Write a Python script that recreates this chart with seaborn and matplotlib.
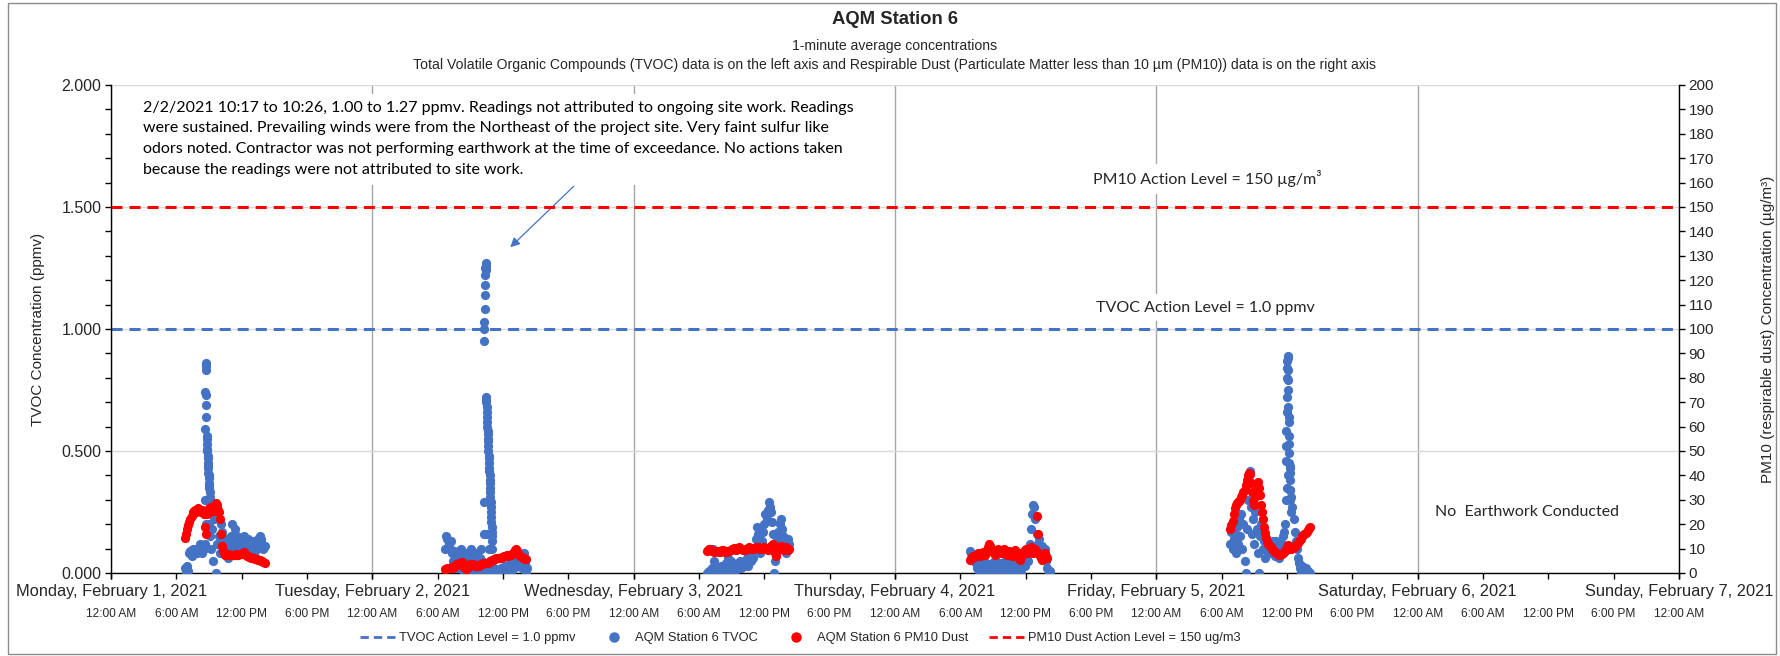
import numpy as np
import pandas as pd
import matplotlib
matplotlib.use("Agg")
import matplotlib.pyplot as plt
import matplotlib.dates as mdates
import matplotlib.ticker as mticker
from matplotlib.patches import Rectangle
from matplotlib.lines import Line2D
import seaborn as sns

# ---------------- data ----------------
TITLE = "AQM Station 6"
SUBTITLE_1 = "1-minute average concentrations"
SUBTITLE_2 = ("Total Volatile Organic Compounds (TVOC) data is on the left axis and Respirable Dust "
              "(Particulate Matter less than 10 \u00b5m (PM10)) data is on the right axis")

TVOC_ACTION = 1.0      # ppmv
PM10_ACTION = 150.0    # ug/m3

# TVOC readings (ppmv): 6-minute samples, start "day HH:MM"
mon_tvoc_start = "2021-02-01 06:48"
mon_tvoc = [0.02, 0.0, 0.03, 0.01, 0.08, 0.09, 0.07, 0.1, 0.08, 0.09, 0.1, 0.08, 0.09, 0.1, 0.12, 0.09,
            0.08, 0.1, 0.12, 0.2, 0.25, 0.3, 0.2, 0.15, 0.1, 0.18, 0.05, 0.22, 0.0, 0.12, 0.25, 0.15,
            0.08, 0.2, 0.17, 0.12, 0.08, 0.1, 0.14, 0.06, 0.12, 0.1, 0.15, 0.2, 0.14, 0.1, 0.18, 0.12,
            0.15, 0.1, 0.08, 0.12, 0.1, 0.13, 0.15, 0.11, 0.09, 0.12, 0.14, 0.1, 0.08, 0.11, 0.13, 0.12,
            0.09, 0.1, 0.12, 0.14, 0.13, 0.15, 0.14, 0.12, 0.1, 0.11]
# Monday spike, 1-minute samples
mon_spike_start = "2021-02-01 08:38"
mon_spike = [0.3, 0.59, 0.74, 0.86, 0.85, 0.83, 0.73, 0.69, 0.64, 0.56, 0.55, 0.53, 0.51, 0.5, 0.48,
             0.47, 0.45, 0.44, 0.43, 0.41, 0.4, 0.39, 0.37, 0.36, 0.35, 0.33, 0.31, 0.3]

tue_tvoc_start = "2021-02-02 06:42"
tue_tvoc = [0.1, 0.15, 0.14, 0.12, 0.1, 0.13, 0.08, 0.05, 0.09, 0.04, 0.07, 0.02, 0.06, 0.09, 0.1, 0.06,
            0.02, 0.0, 0.04, 0.08, 0.03, 0.0, 0.05, 0.09, 0.1, 0.06, 0.02, 0.0, 0.05, 0.08, 0.04, 0.0,
            0.06, 0.1, 0.05, 0.02, 0.0, 0.04, 0.16, 0.0, 0.1, 0.03, 0.0, 0.05, 0.0, 0.02, 0.0, 0.0,
            0.01, 0.0, 0.0, 0.02, 0.0, 0.01, 0.0, 0.03, 0.0, 0.0, 0.02, 0.04, 0.0, 0.03, 0.05, 0.02,
            0.04, 0.06, 0.03, 0.07, 0.08, 0.05, 0.02, 0.06, 0.08, 0.04, 0.0, 0.02]
tue_spike_start = "2021-02-02 10:14"
tue_spike = [0.16, 0.29, 0.95, 1.0, 1.03, 1.08, 1.14, 1.18, 1.22, 1.25, 1.27, 1.26, 1.24, 0.72, 0.71,
             0.7, 0.68, 0.66, 0.64, 0.62, 0.6, 0.58, 0.57, 0.55, 0.54, 0.52, 0.5, 0.48, 0.47, 0.45,
             0.43, 0.42, 0.4, 0.38, 0.37, 0.35, 0.33, 0.31, 0.29, 0.27, 0.25, 0.23, 0.21, 0.19, 0.17,
             0.15, 0.13, 0.1]

wed_tvoc_start = "2021-02-03 06:42"
wed_tvoc = [0.0, 0.0, 0.01, 0.0, 0.0, 0.02, 0.1, 0.05, 0.0, 0.02, 0.0, 0.01, 0.0, 0.03, 0.0, 0.02,
            0.0, 0.01, 0.04, 0.02, 0.06, 0.09, 0.05, 0.0, 0.02, 0.0, 0.01, 0.03, 0.02, 0.04, 0.03, 0.05,
            0.02, 0.04, 0.03, 0.05, 0.04, 0.06, 0.03, 0.05, 0.07, 0.05, 0.08, 0.06, 0.1, 0.14, 0.19, 0.16,
            0.12, 0.08, 0.1, 0.13, 0.17, 0.2, 0.24, 0.22, 0.26, 0.29, 0.27, 0.25, 0.21, 0.16, 0.0, 0.05,
            0.1, 0.14, 0.17, 0.2, 0.22, 0.18, 0.15, 0.12, 0.1, 0.08, 0.11, 0.14, 0.12]

thu_tvoc_start = "2021-02-04 06:54"
thu_tvoc = [0.09, 0.08, 0.06, 0.07, 0.05, 0.04, 0.02, 0.03, 0.01, 0.04, 0.02, 0.0, 0.03, 0.05, 0.02, 0.0,
            0.01, 0.03, 0.0, 0.02, 0.04, 0.01, 0.0, 0.02, 0.05, 0.03, 0.0, 0.02, 0.04, 0.01, 0.0, 0.03,
            0.05, 0.02, 0.0, 0.03, 0.06, 0.04, 0.01, 0.0, 0.02, 0.04, 0.01, 0.0, 0.03, 0.05, 0.02, 0.0,
            0.04, 0.06, 0.03, 0.05, 0.07, 0.05, 0.08, 0.12, 0.18, 0.24, 0.28, 0.27, 0.22, 0.16, 0.12, 0.14,
            0.1, 0.08, 0.11, 0.09, 0.06, 0.1, 0.05, 0.02, 0.0, 0.01]

fri_tvoc_start = "2021-02-05 06:48"
fri_tvoc = [0.12, 0.17, 0.1, 0.14, 0.16, 0.08, 0.19, 0.12, 0.22, 0.15, 0.24, 0.1, 0.2, 0.05, 0.0, 0.18,
            0.3, 0.38, 0.42, 0.27, 0.16, 0.22, 0.12, 0.25, 0.18, 0.08, 0.0, 0.15, 0.2, 0.16, 0.1, 0.13,
            0.06, 0.1, 0.13, 0.09, 0.12, 0.08, 0.11, 0.13, 0.1, 0.07, 0.13, 0.1, 0.08, 0.06, 0.09, 0.12,
            0.15, 0.17, 0.2, 0.3, 0.35, 0.4, 0.45, 0.34, 0.31, 0.27, 0.22, 0.17, 0.13, 0.1, 0.06, 0.04,
            0.02, 0.0, 0.03, 0.01, 0.0, 0.02, 0.0, 0.01, 0.0, 0.0]
fri_spike_start = "2021-02-05 11:55"
fri_spike = [0.46, 0.52, 0.58, 0.66, 0.72, 0.8, 0.84, 0.87, 0.89, 0.88, 0.83, 0.79, 0.75, 0.68, 0.64,
             0.62, 0.56, 0.53, 0.49, 0.44, 0.41, 0.43, 0.38, 0.34, 0.3, 0.25]

# PM10 dust readings (ug/m3): 6-minute samples
mon_pm10_start = "2021-02-01 06:48"
mon_pm10 = [14.5, 16, 18, 19.5, 21, 22, 23.5, 25, 25.5, 26, 25, 26, 26.5, 25.5, 26, 25, 26, 24, 19, 16,
            24, 25, 26.5, 25, 27, 26, 25.5, 27, 28.5, 28, 26, 25, 22, 16, 11, 9, 8, 7.5, 7.5, 7.8,
            7.5, 7.5, 7.2, 7.5, 7.3, 7.4, 7.5, 7.6, 7.4, 7.3, 7.6, 7.8, 7.8, 8.2, 8.5, 7.8, 7.2, 7,
            6.8, 6.6, 6.5, 6.3, 6.2, 6, 5.9, 5.7, 5.6, 5.5, 5.4, 5.2, 5, 4.8, 4.5, 4.3]

tue_pm10_start = "2021-02-02 06:42"
tue_pm10 = [1.5, 1.8, 2, 2, 2.2, 2, 2.3, 2.2, 2.5, 3, 3.5, 3.2, 3.8, 4, 4.3, 4.5, 3.5, 2.5, 2, 1.5,
            2, 2.5, 3, 3.5, 3.6, 3.8, 3.4, 3, 2.8, 3, 3.2, 3, 3.3, 3.5, 3.8, 4, 4.2, 4, 4.3, 4.3,
            4.5, 4.8, 5, 5.2, 5.5, 5.6, 5.8, 6, 6, 6.2, 6.3, 6.3, 6.5, 6.6, 6.8, 7, 7, 7.2, 7, 7.3,
            7.5, 7.8, 8.3, 8.8, 9.5, 9.8, 9, 8, 7.2, 7, 6.5, 6.2, 6, 5.8, 5.6]

wed_pm10_start = "2021-02-03 06:42"
wed_pm10 = [9, 9.5, 10, 9.8, 9.5, 9.2, 9, 8.8, 9, 9.2, 9, 8.6, 8.8, 9, 9.3, 9.5, 9.2, 8.8, 8.5, 8.8,
            9, 9.2, 9.5, 9.8, 10, 10.2, 10, 9.6, 9.8, 10.2, 10.5, 10.3, 10, 9.6, 9.4, 9.6, 9.8, 10, 10.2,
            10.5, 10.3, 10, 9.8, 10, 10.2, 10.5, 10.8, 10.5, 10.2, 10, 9.8, 10, 10.3, 10.5, 10.2, 10,
            9.6, 10, 10.5, 11, 11.5, 12, 10.5, 8, 7, 9, 10, 10.5, 11, 10.5, 10, 9.5, 10, 10.5, 10,
            9.5, 10]

thu_pm10_start = "2021-02-04 06:54"
thu_pm10 = [5.5, 6, 6.5, 7, 6.5, 7, 7.5, 8, 7.6, 7, 7.5, 8, 8.5, 8, 7.5, 9, 10.5, 12, 11, 9.5, 9,
            8.5, 8, 7.5, 8.5, 9.5, 10, 9, 8, 8.5, 9.5, 10, 9, 8, 7.5, 8.5, 9, 8, 7, 7.5, 8.5, 9.5,
            8.5, 7.5, 6.5, 6, 5.5, 6.5, 7.5, 8.5, 9.5, 10, 9, 8, 8.5, 9.5, 10.5, 9, 8, 9.5, 10, 23.5,
            16, 8, 7, 6, 5.5, 6.5, 7.5, 8, 7, 6]

fri_pm10_start = "2021-02-05 06:48"
fri_pm10 = [18, 19.5, 21.5, 24, 26.5, 28, 28.5, 29, 29.5, 30, 31, 32, 33, 34, 36, 38, 40, 41, 40.5, 37,
            33, 29.5, 28, 31, 36, 37.5, 35, 32, 28, 25, 22, 19, 16.5, 14.5, 13, 12, 11, 10.5, 10, 9.5,
            9, 8.5, 8.2, 8, 7.8, 7.5, 7.6, 7.8, 8, 8.5, 9.2, 10, 10.8, 11.5, 11, 10.5, 10, 10.2, 10.5,
            10.8, 11.5, 12, 12.5, 13, 13.5, 14, 15, 15.5, 16, 16.5, 17, 17.5, 18.5, 19]

X_START = "2021-02-01 00:00"
X_END = "2021-02-07 00:00"

ANNOTATION = ("2/2/2021 10:17 to 10:26, 1.00 to 1.27 ppmv. Readings not attributed to ongoing site work. Readings\n"
              "were sustained. Prevailing winds were from the Northeast of the project site. Very faint sulfur like\n"
              "odors noted. Contractor was not performing earthwork at the time of exceedance. No actions taken\n"
              "because the readings were not attributed to site work.")
ARROW_TAIL = ("2021-02-02 18:30", 1.585)
ARROW_HEAD = ("2021-02-02 12:40", 1.335)

# ---------------- helpers ----------------
def build(segments, col):
    rows = []
    for start, vals, step in segments:
        t0 = pd.Timestamp(start)
        for i, v in enumerate(vals):
            rows.append((t0 + pd.Timedelta(minutes=step * i), v))
    return pd.DataFrame(rows, columns=["time", col])

tvoc_df = build([(mon_tvoc_start, mon_tvoc, 6), (mon_spike_start, mon_spike, 1),
                 (tue_tvoc_start, tue_tvoc, 6), (tue_spike_start, tue_spike, 1),
                 (wed_tvoc_start, wed_tvoc, 6), (thu_tvoc_start, thu_tvoc, 6),
                 (fri_tvoc_start, fri_tvoc, 6), (fri_spike_start, fri_spike, 1)], "ppmv")
pm_df = build([(mon_pm10_start, mon_pm10, 6), (tue_pm10_start, tue_pm10, 6),
               (wed_pm10_start, wed_pm10, 6), (thu_pm10_start, thu_pm10, 6),
               (fri_pm10_start, fri_pm10, 6)], "ugm3")

# ---------------- style ----------------
sns.set_theme(style="white")
plt.rcParams["font.family"] = ["Liberation Sans", "DejaVu Sans"]
NOTE_FONT = ["Lato", "DejaVu Sans"]

BLUE = "#4472C4"
RED = "#FF0000"
W, H = 1781, 656
fig = plt.figure(figsize=(W / 100, H / 100), dpi=100)
fig.patch.set_facecolor("white")

L, R, T, B = 111, 1679, 85, 573
ax = fig.add_axes([L / W, 1 - B / H, (R - L) / W, (B - T) / H])
ax2 = ax.twinx()

sns.scatterplot(data=tvoc_df, x="time", y="ppmv", ax=ax, color=BLUE, s=44, linewidth=0,
                legend=False, zorder=3)
sns.scatterplot(data=pm_df, x="time", y="ugm3", ax=ax2, color=RED, s=44, linewidth=0,
                legend=False, zorder=3)

ax.axhline(TVOC_ACTION, color=BLUE, lw=2.2, ls=(0, (3.6, 2.3)), zorder=2)
ax2.axhline(PM10_ACTION, color=RED, lw=2.2, ls=(0, (3.6, 2.3)), zorder=2)

ax.set_xlim(pd.Timestamp(X_START), pd.Timestamp(X_END))
ax.set_ylim(0, 2)
ax2.set_ylim(0, 200)

# y axes
ax.yaxis.set_major_locator(mticker.MultipleLocator(0.5))
ax.yaxis.set_minor_locator(mticker.MultipleLocator(0.1))
ax.yaxis.set_major_formatter(mticker.FormatStrFormatter("%.3f"))
ax2.yaxis.set_major_locator(mticker.MultipleLocator(10))
ax.set_ylabel("TVOC Concentration (ppmv)", fontsize=11, labelpad=12)
ax2.set_ylabel("PM10 (respirable dust) Concentration (\u00b5g/m\u00b3)", fontsize=11, labelpad=34)
ax.set_xlabel("")
ax2.set_xlabel("")

ax.tick_params(axis="y", which="major", direction="out", length=4, width=1, labelsize=11.5,
               left=True, color="black", pad=3)
ax.tick_params(axis="y", which="minor", direction="out", length=4, width=1, left=True, color="black")
ax2.tick_params(axis="y", which="major", direction="out", length=4, width=1, labelsize=11,
                right=True, color="black", pad=3)

# x axis: day labels (major) and time-of-day labels (minor)
ax.xaxis.remove_overlapping_locs = False
ax.xaxis.set_major_locator(mdates.DayLocator())
ax.xaxis.set_minor_locator(mdates.HourLocator(byhour=[0, 6, 12, 18]))

def day_fmt(x, pos):
    d = mdates.num2date(x)
    return d.strftime("%A, %B ") + str(d.day) + d.strftime(", %Y")

def time_fmt(x, pos):
    d = mdates.num2date(x)
    return d.strftime("%I:%M %p").lstrip("0")

ax.xaxis.set_major_formatter(mticker.FuncFormatter(day_fmt))
ax.xaxis.set_minor_formatter(mticker.FuncFormatter(time_fmt))
ax.tick_params(axis="x", which="major", direction="out", length=4, width=1, labelsize=11.8,
               bottom=True, color="black", pad=4)
ax.tick_params(axis="x", which="minor", direction="out", length=4, width=1, labelsize=8.6,
               bottom=True, color="black", pad=21)

for a in (ax, ax2):
    for s in a.spines.values():
        s.set_color("black")
        s.set_linewidth(1)
    a.spines["top"].set_visible(False)
ax.spines["right"].set_visible(False)
ax2.spines["left"].set_visible(False)
ax2.spines["bottom"].set_visible(False)

ax.set_axisbelow(True)
ax.yaxis.grid(True, which="major", color="#D9D9D9", lw=1)
ax.xaxis.grid(True, which="major", color="#A6A6A6", lw=1)
ax2.grid(False)

# text boxes
ax.add_patch(Rectangle((pd.Timestamp("2021-02-01 01:45"), 1.592), pd.Timedelta(hours=70),
                       0.37, facecolor="white", edgecolor="none", zorder=1))
ax.text(pd.Timestamp("2021-02-01 02:55"), 1.935, ANNOTATION, fontsize=11.5, family=NOTE_FONT,
        va="top", ha="left", linespacing=1.6, color="black", zorder=4)
ax.annotate("", xy=(pd.Timestamp(ARROW_HEAD[0]), ARROW_HEAD[1]),
            xytext=(pd.Timestamp(ARROW_TAIL[0]), ARROW_TAIL[1]),
            arrowprops=dict(arrowstyle="-|>", color=BLUE, lw=0.9, mutation_scale=14,
                            shrinkA=0, shrinkB=0), zorder=4)
box = dict(facecolor="white", edgecolor="none", pad=5)
ax.text(pd.Timestamp("2021-02-05 04:40"), 1.615, "PM10 Action Level = 150 \u00b5g/m\u00b3",
        fontsize=11.5, family=NOTE_FONT, ha="center", va="center", bbox=box, zorder=4)
ax.text(pd.Timestamp("2021-02-05 04:30"), 1.088, "TVOC Action Level = 1.0 ppmv",
        fontsize=11.5, family=NOTE_FONT, ha="center", va="center", bbox=box, zorder=4)
ax.text(pd.Timestamp("2021-02-06 10:00"), 0.25, "No  Earthwork Conducted",
        fontsize=11.5, family=NOTE_FONT, ha="center", va="center", zorder=4)

# titles
cx = (L + R) / 2 / W
fig.text(cx, 1 - 20 / H, TITLE, ha="center", va="center", fontsize=13.3, fontweight="bold")
fig.text(cx, 1 - 46 / H, SUBTITLE_1, ha="center", va="center", fontsize=10.1)
fig.text(cx, 1 - 65 / H, SUBTITLE_2, ha="center", va="center", fontsize=10.1)

# legend
handles = [Line2D([], [], color=BLUE, lw=2, ls=(0, (3, 1.8))),
           Line2D([], [], color=BLUE, marker="o", ls="none", markersize=6.5),
           Line2D([], [], color=RED, marker="o", ls="none", markersize=6.5),
           Line2D([], [], color=RED, lw=2, ls=(0, (3, 1.8)))]
labels = ["TVOC Action Level = 1.0 ppmv", "AQM Station 6 TVOC", "AQM Station 6 PM10 Dust",
          "PM10 Dust Action Level = 150 ug/m3"]
fig.legend(handles, labels, loc="center", bbox_to_anchor=(800 / W, 1 - 638 / H), ncol=4,
           frameon=False, fontsize=9.3, handlelength=2.8, handletextpad=0.2, columnspacing=1.6)

# outer frame
fig.add_artist(Rectangle((8 / W, 2 / H), 1768 / W, 651 / H, transform=fig.transFigure,
                         fill=False, edgecolor="#8C8C8C", lw=1))

fig.savefig("out.png", dpi=100, facecolor="white")
